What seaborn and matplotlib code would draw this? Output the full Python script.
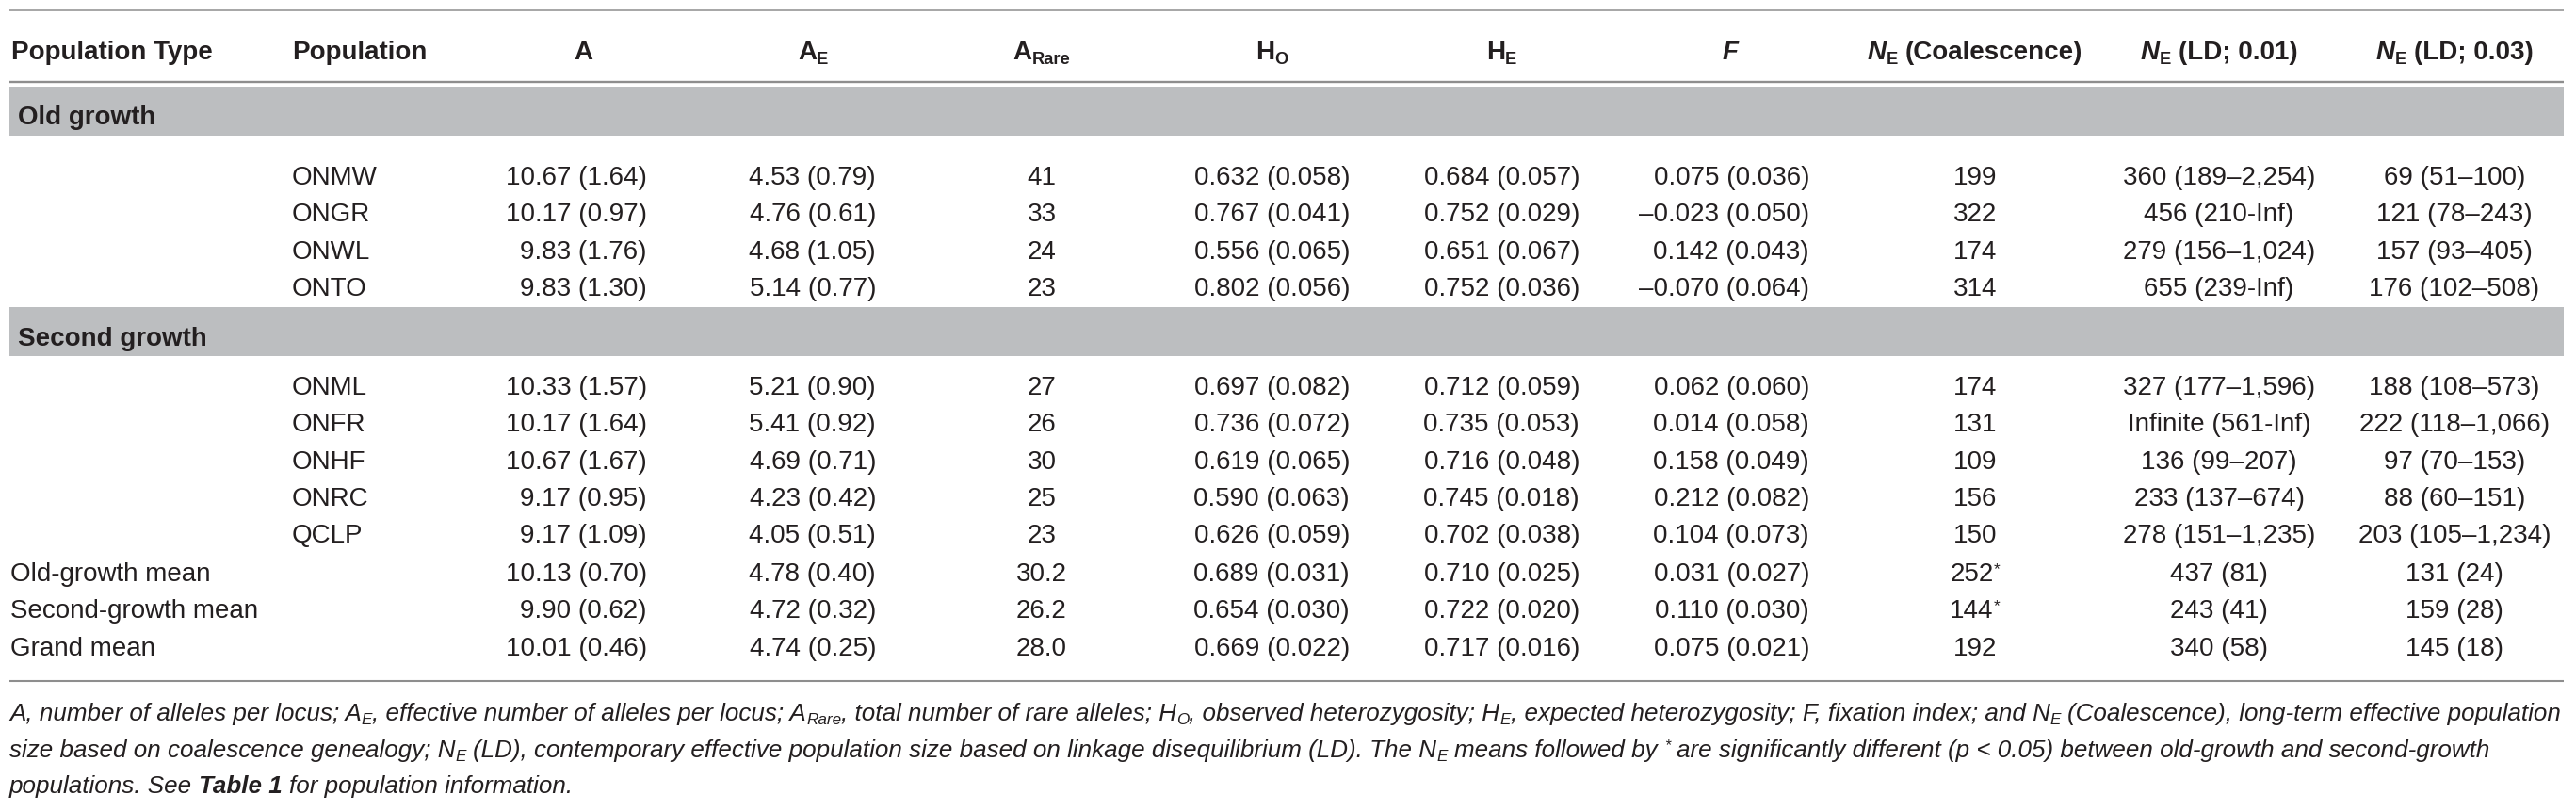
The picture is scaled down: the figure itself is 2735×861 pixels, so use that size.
import matplotlib
matplotlib.use("Agg")
import matplotlib.pyplot as plt
from matplotlib.patches import Rectangle
import seaborn as sns

# ---------------- data ----------------
band_labels = ["Old growth", "Second growth"]
old_pops = ["ONMW", "ONGR", "ONWL", "ONTO"]
second_pops = ["ONML", "ONFR", "ONHF", "ONRC", "QCLP"]
mean_labels = ["Old-growth mean", "Second-growth mean", "Grand mean"]

A_mean = [10.67, 10.17, 9.83, 9.83, 10.33, 10.17, 10.67, 9.17, 9.17, 10.13, 9.90, 10.01]
A_se = [1.64, 0.97, 1.76, 1.30, 1.57, 1.64, 1.67, 0.95, 1.09, 0.70, 0.62, 0.46]
AE_mean = [4.53, 4.76, 4.68, 5.14, 5.21, 5.41, 4.69, 4.23, 4.05, 4.78, 4.72, 4.74]
AE_se = [0.79, 0.61, 1.05, 0.77, 0.90, 0.92, 0.71, 0.42, 0.51, 0.40, 0.32, 0.25]
A_rare = ["41", "33", "24", "23", "27", "26", "30", "25", "23", "30.2", "26.2", "28.0"]
HO_mean = [0.632, 0.767, 0.556, 0.802, 0.697, 0.736, 0.619, 0.590, 0.626, 0.689, 0.654, 0.669]
HO_se = [0.058, 0.041, 0.065, 0.056, 0.082, 0.072, 0.065, 0.063, 0.059, 0.031, 0.030, 0.022]
HE_mean = [0.684, 0.752, 0.651, 0.752, 0.712, 0.735, 0.716, 0.745, 0.702, 0.710, 0.722, 0.717]
HE_se = [0.057, 0.029, 0.067, 0.036, 0.059, 0.053, 0.048, 0.018, 0.038, 0.025, 0.020, 0.016]
F_mean = [0.075, -0.023, 0.142, -0.070, 0.062, 0.014, 0.158, 0.212, 0.104, 0.031, 0.110, 0.075]
F_se = [0.036, 0.050, 0.043, 0.064, 0.060, 0.058, 0.049, 0.082, 0.073, 0.027, 0.030, 0.021]
NE_coal = ["199", "322", "174", "314", "174", "131", "109", "156", "150", "252", "144", "192"]
NE_coal_sig = [False] * 9 + [True, True, False]
NE_LD01 = ["360 (189–2,254)", "456 (210-Inf)", "279 (156–1,024)", "655 (239-Inf)",
           "327 (177–1,596)", "Infinite (561-Inf)", "136 (99–207)", "233 (137–674)",
           "278 (151–1,235)", "437 (81)", "243 (41)", "340 (58)"]
NE_LD03 = ["69 (51–100)", "121 (78–243)", "157 (93–405)", "176 (102–508)",
           "188 (108–573)", "222 (118–1,066)", "97 (70–153)", "88 (60–151)",
           "203 (105–1,234)", "131 (24)", "159 (28)", "145 (18)"]

# ---------------- style ----------------
sns.set_theme(style="white")
plt.rcParams["font.family"] = ["Liberation Sans", "DejaVu Sans"]

W, H = 2735, 862
fig = plt.figure(figsize=(W / 100, H / 100), dpi=100)
ax = fig.add_axes([0, 0, 1, 1])
ax.set_xlim(0, W)
ax.set_ylim(H, 0)
ax.axis("off")
renderer = fig.canvas.get_renderer()

TXT = "#231f20"
LINE = "#8e8e8e"
BAND = "#bcbec0"
FS = 20.0


def measure(s, size, weight, style):
    t = ax.text(0, 0, s, fontsize=size, fontweight=weight, fontstyle=style)
    w = t.get_window_extent(renderer).width
    t.remove()
    return w


def space_w(size, weight, style):
    return measure("x x", size, weight, style) - measure("xx", size, weight, style)


def draw_runs(x, y, runs, ha="left", size=FS, weight="normal", style="normal", color=TXT):
    """runs: list of (text, opts) with opts string containing b / i / n / sub / sup."""
    items = []
    for s, opts in runs:
        w_ = "bold" if "b" in opts.split() else weight
        st = "italic" if "i" in opts.split() else style
        if "n" in opts.split():
            st = "normal"
        kind = "sub" if "sub" in opts.split() else ("sup" if "sup" in opts.split() else "")
        sz = size * (0.66 if kind == "sub" else 0.62 if kind == "sup" else 1.0)
        dy = size * 0.225 if kind == "sub" else (-size * 0.42 if kind == "sup" else 0)
        lead = len(s) - len(s.lstrip(" "))
        trail = len(s) - len(s.rstrip(" "))
        core = s.strip(" ")
        sw = space_w(sz, w_, st)
        wc = measure(core, sz, w_, st) if core else 0
        items.append((core, sz, w_, st, dy, lead * sw, wc, trail * sw))
    total = sum(a + b + c for *_, a, b, c in items)
    if ha == "left":
        cx = x
    elif ha == "right":
        cx = x - total
    else:
        cx = x - total / 2
    for core, sz, w_, st, dy, lw_, wc, tw in items:
        cx += lw_
        if core:
            ax.text(cx, y + dy, core, fontsize=sz, fontweight=w_, fontstyle=st,
                    ha="left", va="baseline", color=color)
        cx += wc + tw
    return total


# ---------------- layout ----------------
X0, X1 = 10, 2722
x_type, x_pop = 12, 310
col_A_r, col_A_h = 687, 619
col_AE_r, col_AE_h = 930, 863
col_rare = 1106
col_HO_r, col_HO_h = 1433, 1350
col_HE_r, col_HE_h = 1677, 1594
col_F_r, col_F_h = 1921, 1837
col_coal = 2097
col_ld1 = 2356
col_ld3 = 2606

row_centers = [186, 225.5, 265, 304.3, 409, 448.5, 488, 527, 566.5, 607.5, 646.5, 686]
CAP = 10  # baseline offset from cap-centre

# rules
ax.plot([X0, X1], [12, 12], color=LINE, lw=1.1, solid_capstyle="butt")
ax.plot([X0, X1], [88, 88], color=LINE, lw=1.7, solid_capstyle="butt")
ax.plot([X0, X1], [724, 724], color=LINE, lw=1.5, solid_capstyle="butt")

# bands
for (top, bot), lab, ty in zip([(93, 144.5), (327, 378.5)], band_labels, [132, 367]):
    ax.add_patch(Rectangle((X0, top), X1 - X0, bot - top, facecolor=BAND, edgecolor="none"))
    ax.text(19, ty, lab, fontsize=FS, fontweight="bold", color=TXT, ha="left", va="baseline")

# header
hy = 63
ax.text(x_type, hy, "Population Type", fontsize=FS, fontweight="bold", color=TXT, va="baseline")
ax.text(x_pop, hy, "Population", fontsize=FS, fontweight="bold", color=TXT, va="baseline")
draw_runs(col_A_h, hy, [("A", "b")], ha="center")
draw_runs(col_AE_h, hy, [("A", "b"), ("E", "b sub")], ha="center")
draw_runs(col_rare, hy, [("A", "b"), ("Rare", "b sub")], ha="center")
draw_runs(col_HO_h, hy, [("H", "b"), ("O", "b sub")], ha="center")
draw_runs(col_HE_h, hy, [("H", "b"), ("E", "b sub")], ha="center")
draw_runs(col_F_h, hy, [("F", "b i")], ha="center")
draw_runs(col_coal, hy, [("N", "b i"), ("E", "b sub"), (" (Coalescence)", "b")], ha="center")
draw_runs(col_ld1, hy, [("N", "b i"), ("E", "b sub"), (" (LD; 0.01)", "b")], ha="center")
draw_runs(col_ld3, hy, [("N", "b i"), ("E", "b sub"), (" (LD; 0.03)", "b")], ha="center")


def fmt(v, se, nd):
    sign = "–" if v < 0 else ""
    return f"{sign}{abs(v):.{nd}f} ({se:.{nd}f})"


pops = old_pops + second_pops
for i, yc in enumerate(row_centers):
    yb = yc + CAP
    if i < len(pops):
        ax.text(x_pop, yb, pops[i], fontsize=FS, color=TXT, va="baseline")
    else:
        ax.text(11, yb, mean_labels[i - len(pops)], fontsize=FS, color=TXT, va="baseline")
    ax.text(col_A_r, yb, fmt(A_mean[i], A_se[i], 2), fontsize=FS, color=TXT, ha="right", va="baseline")
    ax.text(col_AE_r, yb, fmt(AE_mean[i], AE_se[i], 2), fontsize=FS, color=TXT, ha="right", va="baseline")
    ax.text(col_rare, yb, A_rare[i], fontsize=FS, color=TXT, ha="center", va="baseline")
    ax.text(col_HO_r, yb, fmt(HO_mean[i], HO_se[i], 3), fontsize=FS, color=TXT, ha="right", va="baseline")
    ax.text(col_HE_r, yb, fmt(HE_mean[i], HE_se[i], 3), fontsize=FS, color=TXT, ha="right", va="baseline")
    ax.text(col_F_r, yb, fmt(F_mean[i], F_se[i], 3), fontsize=FS, color=TXT, ha="right", va="baseline")
    if NE_coal_sig[i]:
        draw_runs(col_coal, yb, [(NE_coal[i], ""), ("*", "sup")], ha="center")
    else:
        ax.text(col_coal, yb, NE_coal[i], fontsize=FS, color=TXT, ha="center", va="baseline")
    ax.text(col_ld1, yb, NE_LD01[i], fontsize=FS, color=TXT, ha="center", va="baseline")
    ax.text(col_ld3, yb, NE_LD03[i], fontsize=FS, color=TXT, ha="center", va="baseline")

# footnote
foot1 = [("A, number of alleles per locus; A", ""), ("E", "sub"),
         (", effective number of alleles per locus; A", ""), ("Rare", "sub"),
         (", total number of rare alleles; H", ""), ("O", "sub"),
         (", observed heterozygosity; H", ""), ("E", "sub"),
         (", expected heterozygosity; F, fixation index; and N", ""), ("E", "sub"),
         (" (Coalescence), long-term effective population", "")]
foot2 = [("size based on coalescence genealogy; N", ""), ("E", "sub"),
         (" (LD), contemporary effective population size based on linkage disequilibrium (LD). The N", ""),
         ("E", "sub"), (" means followed by ", ""), ("*", "sup"),
         (" are significantly different (p < 0.05) between old-growth and second-growth", "")]
foot3 = [("populations. See ", ""), ("Table 1", "b"), (" for population information.", "")]

# fit footnote size so that the first line spans the table width
trial = 16.0
tmp_w = 0
for s, o in foot1:
    sz = trial * (0.66 if "sub" in o else 1.0)
    core = s.strip(" ")
    tmp_w += measure(core, sz, "normal", "italic") + (len(s) - len(core)) * space_w(sz, "normal", "italic")
fsz = trial * (X1 - 4 - X0) / tmp_w

for runs, yb in zip([foot1, foot2, foot3], [765, 804, 842]):
    draw_runs(X0, yb, runs, ha="left", size=fsz, style="italic")

fig.savefig("out.png", dpi=100)
